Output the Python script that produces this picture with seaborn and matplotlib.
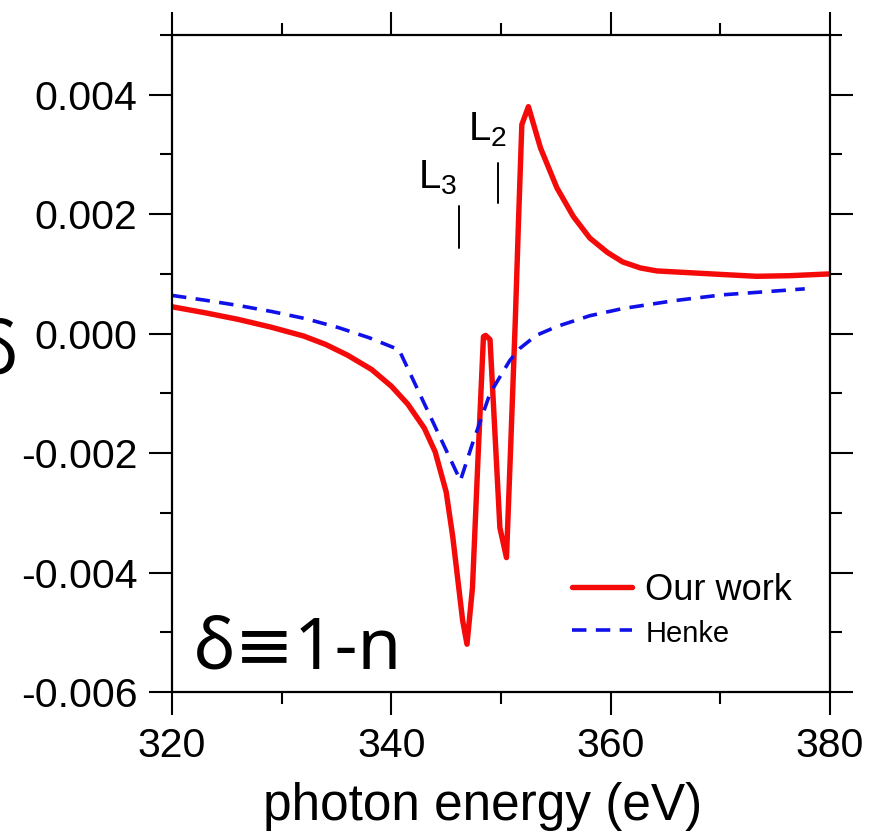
import matplotlib
matplotlib.use("Agg")
import matplotlib.pyplot as plt
import seaborn as sns
import pandas as pd
from matplotlib.lines import Line2D

# ---------------- data ----------------
our_x = [320.0, 323.0, 326.0, 329.0, 332.0, 334.0, 336.0, 338.2, 340.0, 341.5,
         343.0, 344.0, 345.0, 345.6, 346.5, 346.9, 347.4, 347.9, 348.4,
         348.6, 349.0, 349.4, 349.9, 350.5, 350.9, 351.3, 351.6, 351.9, 352.5,
         353.6, 355.1, 356.6, 358.1, 359.7, 361.1, 362.7, 364.2, 367.2, 370.2,
         373.3, 376.3, 380.0]
our_y = [0.00045, 0.00035, 0.00024, 0.00011, -0.00004, -0.00018, -0.00036, -0.00060,
         -0.00088, -0.00118, -0.00158, -0.00198, -0.00265, -0.00340, -0.00480,
         -0.00520, -0.00425, -0.00210, -0.00005, -0.00003, -0.00010, -0.00150, -0.00325,
         -0.00375, -0.00180, 0.00020, 0.00190, 0.00350, 0.00380, 0.00311, 0.00244,
         0.00196, 0.00160, 0.00136, 0.00120, 0.00110, 0.00105, 0.00102, 0.00099,
         0.00096, 0.00097, 0.00100]

henke_x = [320.0, 323.0, 326.1, 329.1, 332.2, 335.2, 338.0, 340.7, 346.3, 347.4,
           349.0, 350.8, 351.7, 353.2, 355.1, 358.1, 361.1, 365.7, 370.2, 374.0, 377.7]
henke_y = [0.00064, 0.00056, 0.00047, 0.00037, 0.00025, 0.00010, -0.00007, -0.00027,
           -0.00246, -0.00184, -0.00100, -0.00045, -0.00025, -0.00003, 0.00012,
           0.00030, 0.00042, 0.00055, 0.00065, 0.00070, 0.00075]

series_names = ["Our work", "Henke"]

x_major = [320, 340, 360, 380]
x_major_labels = ["320", "340", "360", "380"]
x_minor = [330, 350, 370]
y_major = [-0.006, -0.004, -0.002, 0.0, 0.002, 0.004]
y_major_labels = ["-0.006", "-0.004", "-0.002", "0.000", "0.002", "0.004"]
y_minor = [-0.005, -0.003, -0.001, 0.001, 0.003, 0.005]

edge_labels = ["L$_3$", "L$_2$"]
edge_x = [346.17, 349.73]

df = pd.concat([
    pd.DataFrame({"energy": our_x, "delta": our_y, "series": series_names[0]}),
    pd.DataFrame({"energy": henke_x, "delta": henke_y, "series": series_names[1]}),
], ignore_index=True)

RED = "#f50a0a"
BLUE = "#1010e8"

# ---------------- style ----------------
sns.set_style("ticks")
plt.rcParams["font.family"] = ["Liberation Sans", "DejaVu Sans"]
plt.rcParams["mathtext.default"] = "regular"
plt.rcParams["axes.unicode_minus"] = False
plt.rcParams["text.color"] = "black"
plt.rcParams["xtick.color"] = "black"
plt.rcParams["ytick.color"] = "black"
plt.rcParams["axes.labelcolor"] = "black"

fig = plt.figure(figsize=(8.78, 8.35), dpi=100)
ax = fig.add_axes([172 / 878, 1 - 692 / 835, (830 - 172) / 878, (692 - 35) / 835])

sns.lineplot(data=df, x="energy", y="delta", hue="series", style="series",
             palette={"Our work": RED, "Henke": BLUE},
             dashes={"Our work": "", "Henke": (4, 2.6)},
             linewidth=3.3, ax=ax, legend=False, sort=False)
for ln, lw in zip(ax.lines, [3.9, 2.6]):
    ln.set_linewidth(lw)
    ln.set_solid_capstyle("butt")
    ln.set_solid_joinstyle("round")
    ln.set_dash_capstyle("butt")

ax.set_xlim(320, 380)
ax.set_ylim(-0.006, 0.005)
ax.set_xticks(x_major)
ax.set_xticklabels(x_major_labels)
ax.set_xticks(x_minor, minor=True)
ax.set_yticks(y_major)
ax.set_yticklabels(y_major_labels)
ax.set_yticks(y_minor, minor=True)

for s in ax.spines.values():
    s.set_visible(True)
    s.set_linewidth(1.6)
    s.set_color("black")

ax.tick_params(which="both", direction="out", top=True, right=True,
               color="black", width=1.5)
ax.tick_params(which="major", length=16.5, labelsize=29.5, pad=8.5)
ax.tick_params(which="minor", length=8.5)
ax.tick_params(axis="x", which="major", pad=9)

ax.set_xlabel("photon energy (eV)", fontsize=37)
ax.xaxis.set_label_coords((483 - 172) / 658, -0.137)
ax.set_ylabel("")

# legend
handles = [Line2D([], [], color=RED, lw=3.9),
           Line2D([], [], color=BLUE, lw=2.6, ls=(0, (4, 2.6)))]
leg = ax.legend(handles, series_names, loc="upper left",
                bbox_to_anchor=((572 - 172) / 658, (692 - 573) / 657),
                frameon=False, fontsize=26, handlelength=1.67, handletextpad=0.36,
                borderpad=0, borderaxespad=0, labelspacing=0.25)
leg.get_texts()[1].set_fontsize(21)

# edge markers
ax.plot([edge_x[0], edge_x[0]], [0.00214, 0.00144], color="black", lw=1.4)
ax.plot([edge_x[1], edge_x[1]], [0.00286, 0.00218], color="black", lw=1.4)
ax.text(342.4, 0.00244, edge_labels[0], fontsize=29, ha="left", va="baseline")
ax.text(347.0, 0.00323, edge_labels[1], fontsize=29, ha="left", va="baseline")

# definition text
ax.text(322.0, -0.00561, "δ≡1-n", fontsize=51, ha="left", va="baseline",
        family=["Noto Sans", "DejaVu Sans"])

# partially cut y label (as in the reference, only its right edge shows)
fig.text(18 / 878, 1 - 355 / 835, "δ", fontsize=52, ha="right", va="center",
         family=["Noto Sans", "DejaVu Sans"])

fig.savefig("out.png", dpi=100)
